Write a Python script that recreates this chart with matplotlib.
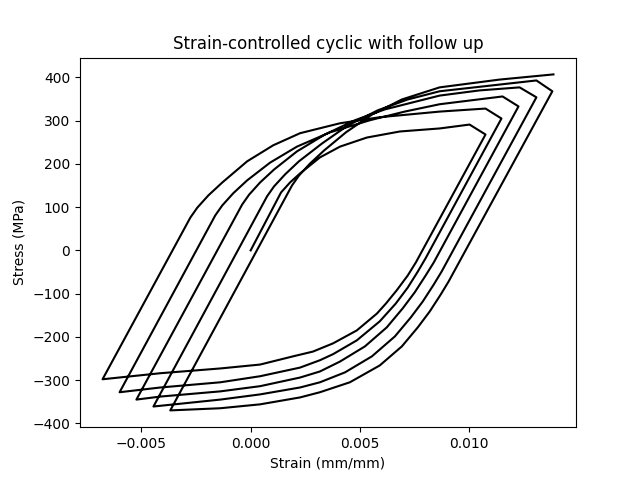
import matplotlib
matplotlib.use("Agg")
import matplotlib.pyplot as plt

# Initial monotonic loading (strain mm/mm, stress MPa)
strain_init = [0.0, 0.00139, 0.00180, 0.00226, 0.00317, 0.00409, 0.00532, 0.00683, 0.00865, 0.01002]
stress_init = [0, 134, 157, 178, 215, 240, 261, 275, 282, 291]

# Unloading branches (start at end of follow-up, end at compressive peak)
strain_u1 = [0.01075, 0.00756, 0.00719, 0.00669, 0.00619, 0.00578, 0.00486, 0.00377, 0.00285, 0.00194, 0.00043, -0.00139, -0.00413, -0.00678]
stress_u1 = [268, -28, -58, -92, -123, -146, -185, -215, -234, -245, -264, -273, -284, -298]
strain_u2 = [0.01148, 0.00801, 0.00765, 0.00719, 0.00664, 0.00591, 0.00486, 0.00377, 0.00317, 0.00226, 0.00043, -0.00139, -0.00413, -0.00600]
stress_u2 = [305, -18, -49, -86, -123, -164, -208, -240, -254, -271, -291, -305, -317, -328]
strain_u3 = [0.01226, 0.00838, 0.00801, 0.00751, 0.00696, 0.00623, 0.00523, 0.00409, 0.00317, 0.00226, 0.00043, -0.00139, -0.00413, -0.00523]
stress_u3 = [333, -28, -58, -97, -134, -178, -222, -257, -280, -294, -314, -326, -338, -345]
strain_u4 = [0.01308, 0.00874, 0.00838, 0.00788, 0.00733, 0.00660, 0.00555, 0.00432, 0.00317, 0.00226, 0.00043, -0.00139, -0.00445]
stress_u4 = [354, -49, -79, -118, -155, -199, -245, -282, -305, -317, -333, -345, -361]
strain_u5 = [0.01381, 0.00906, 0.00870, 0.00820, 0.00765, 0.00692, 0.00591, 0.00454, 0.00317, 0.00226, 0.00043, -0.00139, -0.00368]
stress_u5 = [368, -72, -102, -141, -178, -222, -266, -305, -328, -340, -356, -365, -370]

# Reloading branches (start at compressive peak, end at tensile peak)
strain_r1 = [-0.00678, -0.00276, -0.00244, -0.00194, -0.00130, -0.00016, 0.00103, 0.00226, 0.00409, 0.00591, 0.00865, 0.01075]
stress_r1 = [-298, 76, 99, 127, 157, 206, 243, 271, 294, 308, 321, 328]
strain_r2 = [-0.00600, -0.00162, -0.00130, -0.00080, -0.00016, 0.00089, 0.00212, 0.00363, 0.00546, 0.00705, 0.00865, 0.01153]
stress_r2 = [-328, 81, 104, 132, 162, 203, 240, 273, 301, 321, 338, 356]
strain_r3 = [-0.00523, -0.00039, -0.00007, 0.00043, 0.00107, 0.00212, 0.00340, 0.00477, 0.00614, 0.00865, 0.01048, 0.01231]
stress_r3 = [-345, 106, 129, 157, 187, 229, 268, 301, 326, 358, 370, 377]
strain_r4 = [-0.00445, 0.00075, 0.00107, 0.00158, 0.00221, 0.00326, 0.00445, 0.00582, 0.00719, 0.00865, 0.01094, 0.01308]
stress_r4 = [-361, 125, 148, 176, 206, 247, 289, 324, 349, 368, 381, 393]
strain_r5 = [-0.00368, 0.00189, 0.00221, 0.00272, 0.00336, 0.00436, 0.00555, 0.00692, 0.00865, 0.01139, 0.01386]
stress_r5 = [-370, 150, 173, 201, 231, 273, 314, 349, 377, 395, 407]

branches = [
    (strain_init, stress_init),
    (strain_u1, stress_u1), (strain_r1, stress_r1),
    (strain_u2, stress_u2), (strain_r2, stress_r2),
    (strain_u3, stress_u3), (strain_r3, stress_r3),
    (strain_u4, stress_u4), (strain_r4, stress_r4),
    (strain_u5, stress_u5), (strain_r5, stress_r5),
]

strain = []
stress = []
for s, t in branches:
    strain.extend(s)
    stress.extend(t)

fig, ax = plt.subplots(figsize=(6.4, 4.8), dpi=100)
ax.plot(strain, stress, color="black", linewidth=1.5)
ax.set_title("Strain-controlled cyclic with follow up")
ax.set_xlabel("Strain (mm/mm)")
ax.set_ylabel("Stress (MPa)")
fig.savefig("out.png", dpi=100)
